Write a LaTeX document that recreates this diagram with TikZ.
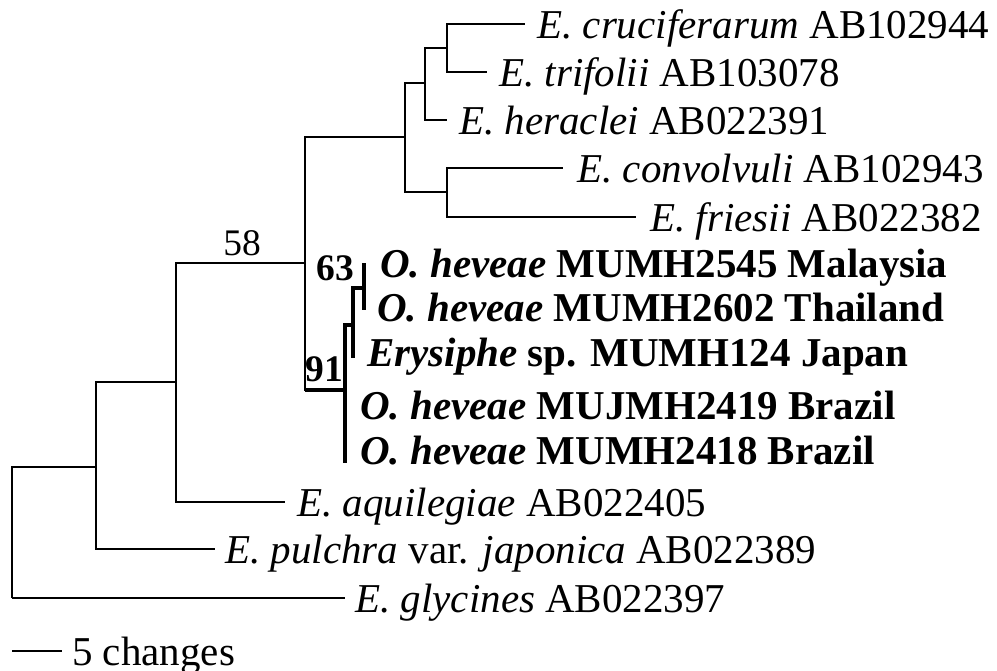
\documentclass[tikz,border=0pt]{standalone}
\usepackage{fontspec}
\setmainfont{Liberation Serif}
\usepackage{tikz}
\usetikzlibrary{positioning,calc}

\begin{document}
\begin{tikzpicture}[
  x=0.03cm, y=-0.03cm,
  br/.style={line width=1.1pt, black},
  hb/.style={line width=3.6pt, black},
  lab/.style={anchor=west, inner sep=0pt, text height=0.84cm, text depth=0pt,
              font=\fontsize{35}{40}\selectfont},
  blab/.style={lab, font=\fontsize{35}{40}\selectfont\bfseries},
  boot/.style={inner sep=0pt, font=\fontsize{32}{36}\selectfont}
]
\useasboundingbox (0,0) rectangle (997,671);
% internal nodes
\coordinate (r) at (12,598);
\coordinate (A) at (96,467);
\coordinate (B) at (176,382);
\coordinate (C) at (305,263);
\coordinate (D) at (405,137);
\coordinate (E) at (425,83);
\coordinate (F) at (447,48);
\coordinate (G) at (447,192);
\coordinate (H) at (345,390);
\coordinate (I) at (353,325);
\coordinate (J) at (364,288);
% tips
\coordinate (cruc) at (525,24);
\coordinate (trif) at (487,72);
\coordinate (herac) at (447,120);
\coordinate (convol) at (563,168);
\coordinate (fries) at (636,217);
\coordinate (mal) at (364,263);
\coordinate (thai) at (364,310);
\coordinate (erys) at (353,358);
\coordinate (braA) at (345,407);
\coordinate (braB) at (345,463);
\coordinate (aquil) at (285,502);
\coordinate (pulch) at (215,549);
\coordinate (glyc) at (345,598);

% branches
\draw[br] (r) |- (A);
\draw[br] (r) |- (glyc);
\draw[br] (A) |- (B);
\draw[br] (A) |- (pulch);
\draw[br] (B) |- (C);
\draw[br] (B) |- (aquil);
\draw[br] (C) |- (D);
\draw[br] (C) |- (H);
\draw[br] (D) |- (E);
\draw[br] (D) |- (G);
\draw[br] (E) |- (F);
\draw[br] (E) |- (herac);
\draw[br] (F) |- (cruc);
\draw[br] (F) |- (trif);
\draw[br] (G) |- (convol);
\draw[br] (G) |- (fries);
% heveae clade
\draw[hb] (C |- H) -- (H);
\draw[hb] (H) |- (I);
\draw[hb] (H) |- (braA);
\draw[hb] (H) |- (braB);
\draw[hb] (I) |- (J);
\draw[hb] (I) |- (erys);
\draw[hb] (J) |- (mal);
\draw[hb] (J) |- (thai);

% tip labels
\node[lab, right=12 of cruc] (lcruc) {\textit{E. cruciferarum} AB102944};
\node[lab, right=12 of trif] (ltrif) {\textit{E. trifolii} AB103078};
\node[lab, right=12 of herac] (lherac) {\textit{E. heraclei} AB022391};
\node[lab, right=14 of convol] (lconvol) {\textit{E. convolvuli} AB102943};
\node[lab, right=14 of fries] (lfries) {\textit{E. friesii} AB022382};
\node[blab] (lmal) at (380,263) {\textit{O. heveae} MUMH2545 Malaysia};
\node[blab] (lthai) at (377,307) {\textit{O. heveae} MUMH2602 Thailand};
\node[blab] (lerys) at (367,352) {\textit{Erysiphe} sp. MUMH124 Japan};
\node[blab] (lbraA) at (360,405) {\textit{O. heveae} MUJMH2419 Brazil};
\node[blab] (lbraB) at (360,450) {\textit{O. heveae} MUMH2418 Brazil};
\node[lab, right=12 of aquil] (laquil) {\textit{E. aquilegiae} AB022405};
\node[lab, right=10 of pulch] (lpulch) {\textit{E. pulchra} var. \textit{japonica} AB022389};
\node[lab, right=10 of glyc] (lglyc) {\textit{E. glycines} AB022397};

% support values
\node[boot] (s58) at (242,243) {58};
\node[boot, font=\fontsize{32}{36}\selectfont\bfseries] (s63) at (335,268) {63};
\node[boot, font=\fontsize{32}{36}\selectfont\bfseries] (s91) at (324,369) {91};

% scale bar
\coordinate (sb1) at (12,651);
\coordinate (sb2) at (62,651);
\draw[br] (sb1) -- (sb2);
\node[lab, right=10 of sb2] (lsb) {5 changes};
\end{tikzpicture}
\end{document}
